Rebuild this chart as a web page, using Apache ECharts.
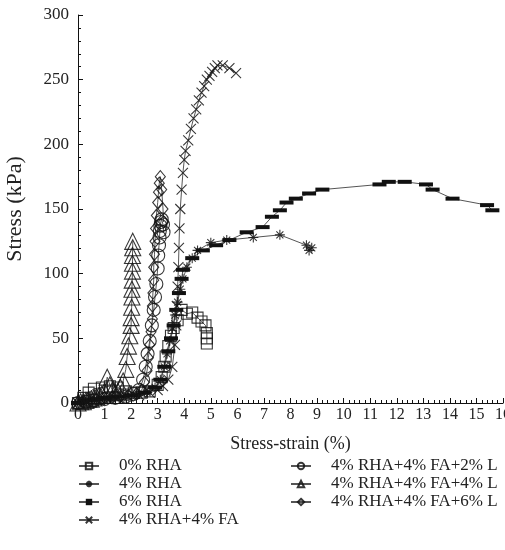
<!DOCTYPE html>
<html><head><meta charset="utf-8">
<script src="https://cdn.jsdelivr.net/npm/echarts@6/dist/echarts.min.js"></script>
<style>html,body{margin:0;padding:0;background:#fff}#c{width:505px;height:550px}</style>
</head><body><div id="c"></div>
<script>
const xTicks = [0,1,2,3,4,5,6,7,8,9,10,11,12,13,14,15,16];
const yTicks = [0,50,100,150,200,250,300];

const rha0 = [[0,0],[0.2,4],[0.4,8],[0.6,11],[0.9,12],[1.2,13],[1.5,12],[1.8,9],[2.1,8],[2.4,8],[2.7,9],[3.0,14],[3.15,20],[3.25,28],[3.3,36],[3.4,44],[3.5,52],[3.6,58],[3.75,64],[3.9,72],[4.1,69],[4.3,70],[4.5,66],[4.65,63],[4.8,60],[4.85,54],[4.85,50],[4.85,46]];
const rha4 = [[0,0],[0.3,1],[0.7,2],[1.0,3],[1.4,4],[1.8,5],[2.2,6],[2.6,8],[2.9,12],[3.1,18],[3.25,28],[3.35,38],[3.45,48],[3.55,58],[3.65,68],[3.75,78],[3.85,88],[3.95,96],[4.1,105],[4.3,112],[4.5,118],[5.0,124],[5.6,126],[6.6,128],[7.6,130],[8.6,122],[8.7,118],[8.8,120]];
const rha6 = [[0,0],[0.3,2],[0.7,3],[1.0,4],[1.5,5],[2.0,6],[2.5,8],[2.9,12],[3.1,18],[3.25,28],[3.4,40],[3.5,50],[3.6,60],[3.7,72],[3.8,85],[3.9,96],[3.95,103],[4.3,112],[4.7,118],[5.2,122],[5.7,126],[6.35,132],[6.95,136],[7.3,144],[7.6,149],[7.85,155],[8.2,158],[8.7,162],[9.2,165],[11.35,169],[11.7,171],[12.3,171],[13.1,169],[13.35,165],[14.1,158],[15.4,153],[15.6,149]];
const rhaFa = [[0,0],[0.3,1],[0.7,2],[1.1,3],[1.5,4],[1.9,5],[2.3,6],[2.7,8],[3.0,10],[3.2,13],[3.4,18],[3.55,28],[3.65,45],[3.7,60],[3.72,75],[3.75,90],[3.78,105],[3.8,120],[3.82,135],[3.85,150],[3.9,165],[3.95,178],[4.0,188],[4.05,195],[4.15,203],[4.25,212],[4.35,220],[4.45,227],[4.55,234],[4.65,240],[4.75,245],[4.85,250],[4.95,253],[5.05,256],[5.15,259],[5.25,261],[5.45,261],[5.7,259],[5.95,255]];
const l2 = [[0,0],[0.3,1],[0.6,2],[1.0,3],[1.4,4],[1.8,5],[2.1,7],[2.3,10],[2.45,18],[2.55,28],[2.62,38],[2.7,48],[2.78,60],[2.85,72],[2.9,82],[2.95,92],[3.0,104],[3.02,114],[3.05,122],[3.07,128],[3.08,133],[3.1,137],[3.12,140],[3.15,142],[3.2,138],[3.22,132]];
const l4 = [[0,0],[0.1,1],[0.2,1],[0.3,2],[0.4,3],[0.5,3],[0.6,4],[0.7,5],[0.8,6],[0.9,7],[1.0,9],[1.1,20],[1.2,14],[1.3,10],[1.4,8],[1.5,9],[1.6,12],[1.7,17],[1.8,26],[1.85,36],[1.9,44],[1.95,52],[2.0,60],[2.0,66],[2.02,74],[2.03,82],[2.03,88],[2.04,95],[2.05,102],[2.05,108],[2.05,114],[2.06,120],[2.06,125]];
const l6 = [[0,0],[0.2,1],[0.4,2],[0.7,3],[1.0,4],[1.3,5],[1.6,5],[1.9,6],[2.2,7],[2.4,10],[2.5,16],[2.6,25],[2.65,35],[2.7,45],[2.75,55],[2.8,65],[2.8,75],[2.82,85],[2.85,95],[2.85,105],[2.88,115],[2.9,125],[2.92,135],[2.95,145],[3.0,155],[3.03,163],[3.06,170],[3.1,175],[3.15,165],[3.2,150],[3.22,140]];

const names = ['0% RHA','4% RHA','6% RHA','4% RHA+4% FA','4% RHA+4% FA+2% L','4% RHA+4% FA+4% L','4% RHA+4% FA+6% L'];

const FONT = 'Liberation Serif';
const STROKE = 'rgba(20,20,20,0.85)';
const LINE = '#555';
const XSYM = 'path://M0,0L10,10M10,0L0,10';
const ASYM = 'path://M5,0L5,10M0,5L10,5M1.5,1.5L8.5,8.5M8.5,1.5L1.5,8.5';

function mk(name, data, symbol, size, filled) {
  return {
    name, type: 'line', data, symbol, symbolSize: size, showSymbol: true,
    lineStyle: { color: LINE, width: 1 },
    itemStyle: filled ? { color: '#111', borderColor: '#111', borderWidth: 0 }
                      : { color: 'rgba(0,0,0,0)', borderColor: STROKE, borderWidth: 1.1 },
    emphasis: { disabled: true }, animation: false
  };
}

const chart = echarts.init(document.getElementById('c'), null, { renderer: 'canvas' });
const legendText = { fontFamily: FONT, fontSize: 17, color: '#222', lineHeight: 18, padding: [0,0,0,15] };
const legendBase = { orient: 'vertical', top: 457, padding: 0, itemWidth: 20, itemHeight: 8, itemGap: 0,
  textStyle: legendText, selectedMode: false };
chart.setOption({
  backgroundColor: '#fff',
  animation: false,
  grid: { left: 78, right: 2, top: 15, bottom: 147, containLabel: false, outerBoundsMode: 'none' },
  xAxis: {
    type: 'value', min: xTicks[0], max: xTicks[xTicks.length-1], interval: 1,
    name: 'Stress-strain (%)', nameLocation: 'middle', nameGap: 32,
    nameTextStyle: { fontFamily: FONT, fontSize: 18, color: '#222' },
    axisLine: { lineStyle: { color: '#111', width: 1 } },
    axisTick: { inside: true, length: 5, lineStyle: { color: '#111' } },
    minorTick: { show: true, splitNumber: 5, length: 3, lineStyle: { color: '#111' } },
    splitLine: { show: false },
    axisLabel: { fontFamily: FONT, fontSize: 16, color: '#222', margin: 4, showMaxLabel: true, hideOverlap: false }
  },
  yAxis: {
    type: 'value', min: yTicks[0], max: yTicks[yTicks.length-1], interval: 50,
    name: 'Stress (kPa)', nameLocation: 'middle', nameGap: 52,
    nameTextStyle: { fontFamily: FONT, fontSize: 22, color: '#222' },
    axisLine: { show: true, lineStyle: { color: '#111', width: 1 } },
    axisTick: { show: true, inside: true, length: 5, lineStyle: { color: '#111' } },
    minorTick: { show: true, splitNumber: 5, length: 3, lineStyle: { color: '#111' } },
    splitLine: { show: false },
    axisLabel: { fontFamily: FONT, fontSize: 17, color: '#222', margin: 9 }
  },
  legend: [
    Object.assign({ left: 78, data: names.slice(0,4) }, legendBase),
    Object.assign({ left: 290, data: names.slice(4) }, legendBase)
  ],
  series: [
    mk(names[0], rha0, 'rect', 11, false),
    mk(names[1], rha4, ASYM, 10, false),
    mk(names[2], rha6, 'rect', [14,4], true),
    mk(names[3], rhaFa, XSYM, 10, false),
    mk(names[4], l2, 'circle', 13, false),
    mk(names[5], l4, 'triangle', 16, false),
    mk(names[6], l6, 'diamond', [10,12], false)
  ]
});
</script></body></html>
